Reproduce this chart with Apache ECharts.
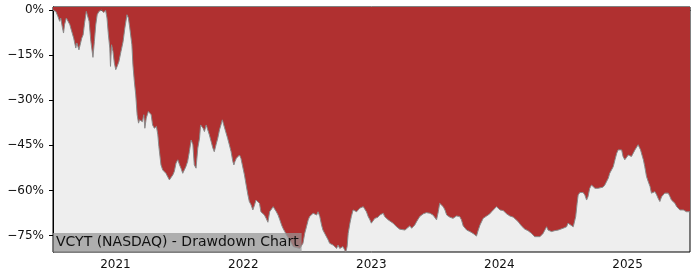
<!DOCTYPE html>
<html>
<head>
<meta charset="utf-8">
<script src="https://cdn.jsdelivr.net/npm/echarts@6/dist/echarts.min.js"></script>
<style>
html,body{margin:0;padding:0;background:#fff;}
#chart{width:700px;height:280px;}
</style>
</head>
<body>
<div id="chart"></div>
<script>
// ---- data (drawdown in %) ----
const dates = [
'2020-07-07','2020-07-15','2020-07-21','2020-07-26','2020-07-29','2020-08-03','2020-08-06','2020-08-09','2020-08-14','2020-08-19',
'2020-08-24','2020-08-28','2020-09-04','2020-09-10','2020-09-13','2020-09-19','2020-09-23','2020-09-27','2020-10-01','2020-10-05',
'2020-10-10','2020-10-14','2020-10-18','2020-10-23','2020-10-29','2020-11-02','2020-11-06','2020-11-10','2020-11-15','2020-11-22',
'2020-11-29','2020-12-04','2020-12-08','2020-12-12','2020-12-16','2020-12-18','2020-12-21','2020-12-25','2020-12-29','2021-01-02',
'2021-01-06','2021-01-11','2021-01-17','2021-01-23','2021-01-28','2021-02-03','2021-02-07','2021-02-11','2021-02-17','2021-02-20',
'2021-02-24','2021-02-28','2021-03-04','2021-03-08','2021-03-11','2021-03-15','2021-03-19','2021-03-23','2021-03-26','2021-03-30',
'2021-04-05','2021-04-09','2021-04-13','2021-04-17','2021-04-22','2021-04-28','2021-05-02','2021-05-05','2021-05-11','2021-05-16',
'2021-05-21','2021-05-25','2021-05-30','2021-06-04','2021-06-09','2021-06-14','2021-06-18','2021-06-23','2021-06-28','2021-07-03',
'2021-07-07','2021-07-12','2021-07-17','2021-07-21','2021-07-26','2021-07-31','2021-08-05','2021-08-10','2021-08-14','2021-08-19',
'2021-08-24','2021-08-29','2021-09-01','2021-09-04','2021-09-08','2021-09-12','2021-09-17','2021-09-21','2021-09-26','2021-10-01',
'2021-10-06','2021-10-10','2021-10-15','2021-10-20','2021-10-25','2021-10-29','2021-11-02','2021-11-06','2021-11-10','2021-11-14',
'2021-11-17','2021-11-22','2021-11-27','2021-12-02','2021-12-05','2021-12-08','2021-12-12','2021-12-16','2021-12-21','2021-12-25',
'2021-12-30','2022-01-04','2022-01-09','2022-01-14','2022-01-18','2022-01-23','2022-01-28','2022-02-02','2022-02-06','2022-02-11',
'2022-02-16','2022-02-20','2022-02-25','2022-03-02','2022-03-07','2022-03-12','2022-03-17','2022-03-22','2022-03-27','2022-04-01',
'2022-04-05','2022-04-10','2022-04-15','2022-04-20','2022-04-24','2022-04-29','2022-05-04','2022-05-08','2022-05-13','2022-05-18',
'2022-05-23','2022-05-28','2022-06-01','2022-06-06','2022-06-11','2022-06-16','2022-06-20','2022-06-25','2022-06-30','2022-07-05',
'2022-07-09','2022-07-14','2022-07-19','2022-07-24','2022-07-29','2022-08-02','2022-08-07','2022-08-12','2022-08-16','2022-08-21',
'2022-08-26','2022-08-31','2022-09-04','2022-09-09','2022-09-14','2022-09-19','2022-09-24','2022-09-28','2022-10-03','2022-10-08',
'2022-10-12','2022-10-17','2022-10-20','2022-10-24','2022-10-27','2022-11-01','2022-11-05','2022-11-10','2022-11-15','2022-11-20',
'2022-11-24','2022-11-29','2022-12-04','2022-12-09','2022-12-13','2022-12-18','2022-12-23','2022-12-28','2023-01-01','2023-01-06',
'2023-01-11','2023-01-16','2023-01-20','2023-01-25','2023-01-30','2023-02-04','2023-02-08','2023-02-13','2023-02-18','2023-02-23',
'2023-03-04','2023-03-09','2023-03-14','2023-03-18','2023-03-23','2023-03-28','2023-04-07','2023-04-11','2023-04-21','2023-04-26',
'2023-05-05','2023-05-10','2023-05-19','2023-05-29','2023-06-07','2023-06-17','2023-06-26','2023-07-01','2023-07-06','2023-07-11',
'2023-07-15','2023-07-20','2023-07-25','2023-07-30','2023-08-04','2023-08-13','2023-08-22','2023-09-01','2023-09-10','2023-09-15',
'2023-09-20','2023-09-25','2023-09-30','2023-10-09','2023-10-18','2023-10-28','2023-11-02','2023-11-07','2023-11-16','2023-11-26',
'2023-12-05','2023-12-10','2023-12-14','2023-12-24','2023-12-29','2024-01-03','2024-01-07','2024-01-12','2024-01-22','2024-01-31',
'2024-02-10','2024-02-14','2024-02-24','2024-03-04','2024-03-14','2024-03-23','2024-04-02','2024-04-11','2024-04-16','2024-04-26',
'2024-05-05','2024-05-10','2024-05-15','2024-05-19','2024-05-29','2024-06-07','2024-06-17','2024-06-22','2024-07-01','2024-07-06',
'2024-07-11','2024-07-15','2024-07-20','2024-07-30','2024-08-04','2024-08-06','2024-08-10','2024-08-13','2024-08-18','2024-08-27',
'2024-09-01','2024-09-06','2024-09-10','2024-09-15','2024-09-20','2024-09-25','2024-09-30','2024-10-04','2024-10-09','2024-10-14',
'2024-10-23','2024-10-28','2024-11-02','2024-11-07','2024-11-11','2024-11-16','2024-11-21','2024-11-26','2024-12-01','2024-12-05',
'2024-12-10','2024-12-15','2024-12-19','2024-12-24','2024-12-29','2025-01-03','2025-01-08','2025-01-12','2025-01-17','2025-01-22',
'2025-01-27','2025-01-31','2025-02-03','2025-02-07','2025-02-11','2025-02-15','2025-02-19','2025-02-24','2025-03-01','2025-03-06',
'2025-03-10','2025-03-15','2025-03-20','2025-03-25','2025-03-29','2025-04-03','2025-04-08','2025-04-13','2025-04-17','2025-04-22',
'2025-04-27','2025-05-02','2025-05-06','2025-05-11','2025-05-16','2025-05-21','2025-05-25','2025-05-30','2025-06-09','2025-06-18',
'2025-06-28'
];
const drawdown = [
0,-0.4,-2.1,-3.7,-2.6,-5.9,-7.6,-4.8,-2.6,-2.1,
-4.8,-6.5,-9.3,-12.6,-10.9,-13.2,-13.7,-9.3,-8.2,-4.3,
-0.4,0,-3.7,-10.4,-15.7,-10.4,-4.8,-1.5,-0.4,0,
-0.8,0,-2.6,-8.2,-12.6,-18.7,-11.5,-13.7,-17.6,-19.8,
-18.7,-17.1,-13.7,-10.4,-5.9,-1.5,-2.6,-5.9,-11.5,-18.2,
-23.7,-28.2,-34.8,-37.6,-36.5,-35.9,-37.1,-34.8,-39.3,-35.9,
-33.7,-33.2,-34.8,-38.2,-39.3,-38.7,-41.5,-45.4,-51.5,-53.2,
-52.6,-54.3,-54.8,-56.5,-55.9,-54.8,-53.7,-50.9,-49.8,-51.5,
-52.6,-54.3,-53.7,-52.1,-50.4,-47.1,-43.2,-44.8,-51.5,-52.6,
-45.9,-42.6,-38.2,-37.6,-39.3,-40.4,-38.2,-38.7,-41.5,-43.7,
-45.9,-47.1,-44.8,-42.6,-39.8,-38.2,-36.5,-38.2,-39.8,-40.4,
-42.6,-44.8,-47.1,-50.4,-51.5,-50.4,-49.3,-48.7,-48.2,-49.3,
-49.8,-54.8,-58.2,-61.5,-63.7,-64.8,-66.5,-64.8,-63.2,-62.9,
-64.3,-67.1,-67.6,-68.2,-69.3,-70.6,-67.1,-66.5,-65.4,-64.8,
-67.1,-68.2,-69.8,-71.5,-72.6,-73.7,-74.8,-75.4,-76.5,-77.6,
-78.7,-79.3,-79.0,-78.7,-79.3,-79.8,-77.6,-74.3,-72.1,-69.8,
-68.7,-68.2,-67.6,-67.1,-68.2,-67.1,-68.7,-71.5,-73.2,-74.3,
-75.4,-76.5,-77.6,-77.1,-78.2,-78.7,-79.3,-78.2,-79.3,-79.8,
-78.7,-79.8,-80.6,-78.7,-74.3,-70.9,-68.7,-66.5,-65.9,-67.1,
-66.5,-65.9,-66.5,-65.4,-64.8,-67.1,-68.7,-69.8,-70.9,-71.5,
-69.3,-68.7,-68.9,-68.2,-67.8,-67.6,-68.7,-69.3,-69.8,-70.4,
-70.9,-71.5,-72.1,-72.6,-72.9,-73.2,-73.2,-72.6,-71.8,-72.6,
-71.5,-70.4,-68.7,-67.8,-67.4,-67.6,-68.2,-68.7,-69.8,-67.1,
-64.3,-64.8,-65.4,-66.5,-68.2,-68.9,-69.3,-68.5,-68.7,-69.8,
-71.8,-72.3,-73.2,-73.7,-74.3,-75.2,-73.2,-71.5,-69.3,-68.5,
-67.8,-67.1,-66.5,-65.4,-65.6,-66.5,-67.1,-66.7,-67.8,-68.5,
-68.9,-69.3,-70.4,-71.8,-72.9,-73.4,-74.3,-75.4,-75.9,-75.4,
-74.3,-73.2,-72.1,-73.2,-73.7,-73.4,-73.2,-72.6,-72.6,-72.9,
-72.1,-70.9,-70.4,-72.1,-72.6,-68.7,-64.3,-61.5,-60.7,-60.7,
-61.5,-63.2,-62.1,-59.3,-58.2,-58.7,-59.3,-58.7,-59.3,-58.7,
-58.9,-58.2,-57.6,-55.9,-54.3,-53.7,-52.1,-49.8,-47.6,-46.5,
-46.3,-46.5,-48.7,-49.8,-49.3,-48.2,-47.8,-48.7,-48.2,-46.5,
-45.9,-44.8,-45.4,-46.5,-48.2,-49.8,-52.1,-55.4,-57.1,-58.7,
-60.9,-61.5,-60.4,-61.5,-62.6,-63.7,-62.1,-61.5,-60.9,-61.5,
-60.9,-62.1,-63.2,-63.7,-64.3,-65.4,-65.9,-66.5,-66.5,-67.1,
-67.1
];
const yTicks = [0, -15, -30, -45, -60, -75];
const chartLabel = 'VCYT (NASDAQ) - Drawdown Chart';

function ts(s) {
  const p = s.split('-').map(Number);
  return new Date(p[0], p[1] - 1, p[2]).getTime();
}
const seriesData = dates.map((d, i) => [ts(d), drawdown[i]]);
const DAY = 24 * 3600 * 1000;

const chart = echarts.init(document.getElementById('chart'), null, {renderer: 'canvas'});
const font = 'DejaVu Sans';
chart.setOption({
  animation: false,
  backgroundColor: '#ffffff',
  title: {
    text: chartLabel,
    left: 53,
    top: 233,
    padding: [2, 3, 2, 3],
    backgroundColor: 'rgba(150,150,150,0.72)',
    textStyle: {fontFamily: font, fontSize: 14, fontWeight: 'normal', color: '#111', lineHeight: 15}
  },
  grid: {
    left: 53, right: 10, top: 7, bottom: 28,
    show: true, backgroundColor: '#eeeeee', borderColor: '#000', borderWidth: 1
  },
  xAxis: {
    type: 'time',
    min: ts(dates[0]),
    max: ts(dates[dates.length - 1]),
    minInterval: 365 * DAY,
    maxInterval: 366 * DAY,
    axisLine: {show: true, lineStyle: {color: '#000', width: 1}},
    axisTick: {show: true, length: 4, lineStyle: {color: '#000'}},
    axisLabel: {
      fontFamily: font, fontSize: 12, color: '#111', margin: 7,
      showMinLabel: false, showMaxLabel: false,
      formatter: v => String(new Date(v).getFullYear())
    },
    splitLine: {show: false}
  },
  yAxis: {
    type: 'value',
    min: -80.5,
    max: 1.07,
    axisLine: {show: true, lineStyle: {color: '#000', width: 1}},
    axisTick: {show: true, length: 4, lineStyle: {color: '#000'}, customValues: yTicks},
    axisLabel: {
      fontFamily: font, fontSize: 12, color: '#111', margin: 9,
      customValues: yTicks,
      formatter: v => (v < 0 ? '\u2212' + Math.abs(v) : String(v)) + '%'
    },
    splitLine: {show: false}
  },
  series: [{
    type: 'line',
    data: seriesData,
    showSymbol: false,
    symbol: 'none',
    lineStyle: {color: '#8a8a8a', width: 1},
    areaStyle: {color: '#b03030', opacity: 1, origin: 'end'},
    z: 2
  }]
});
</script>
</body>
</html>
